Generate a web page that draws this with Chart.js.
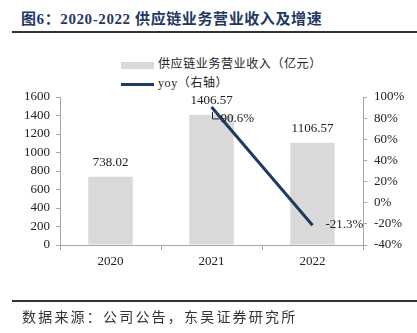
<!DOCTYPE html>
<html>
<head>
<meta charset="utf-8">
<script src="https://cdn.jsdelivr.net/npm/chart.js@4"></script>
<style>
  html, body { margin: 0; padding: 0; background: #fff; }
  #wrap { position: relative; width: 417px; height: 333px; overflow: hidden; font-family: "Liberation Serif", "Noto Sans CJK SC", serif; }
  #title { position: absolute; left: 21px; top: 7px; font-size: 15px; font-weight: bold; color: #1F3864; white-space: nowrap; letter-spacing: 0.6px; }
  #rule1 { position: absolute; left: 12px; right: 0; top: 31px; height: 2px; background: #333; }
  #rule2 { position: absolute; left: 12px; right: 0; top: 300px; height: 2px; background: #333; }
  #source { position: absolute; left: 22px; top: 306px; font-size: 14px; color: #333; white-space: nowrap; letter-spacing: 2.2px; }
  .leg { position: absolute; left: 121px; font-size: 12px; color: #222; white-space: nowrap; letter-spacing: 0.6px; line-height: 14px; }
  .leg i { display: inline-block; width: 33px; vertical-align: middle; margin-right: 4px; }
  #leg1 { top: 57px; }
  #leg1 i { height: 7px; background: #D9D9D9; }
  #leg2 { top: 76px; }
  #leg2 i { height: 3px; background: #1F3864; }
  canvas { position: absolute; left: 0; top: 0; }
</style>
</head>
<body>
<div id="wrap">
  <div id="title">图6：2020-2022 供应链业务营业收入及增速</div>
  <div id="rule1"></div>
  <div class="leg" id="leg1"><i></i>供应链业务营业收入（亿元）</div>
  <div class="leg" id="leg2"><i></i>yoy（右轴）</div>
  <canvas id="c" width="417" height="333"></canvas>
  <div id="rule2"></div>
  <div id="source">数据来源：公司公告，东吴证券研究所</div>
</div>
<script>
// 数据
const years = ["2020", "2021", "2022"];
const revenue = [738.02, 1406.57, 1106.57];
const yoy = [null, 90.6, -21.3];

const serif = "'Liberation Serif', 'Times New Roman', serif";
const axisGrey = "#A6A6A6";

// 数值标签
const labelPlugin = {
  id: "labels",
  afterDatasetsDraw(chart) {
    const ctx = chart.ctx;
    ctx.save();
    ctx.font = "13px " + serif;
    ctx.fillStyle = "#222";
    ctx.textBaseline = "middle";
    chart.getDatasetMeta(0).data.forEach((bar, i) => {
      ctx.textAlign = "center";
      ctx.fillText(revenue[i].toFixed(2), bar.x, bar.y - 14);
    });
    chart.getDatasetMeta(1).data.forEach((pt, i) => {
      if (yoy[i] == null) return;
      ctx.textAlign = "left";
      if (yoy[i] > 0) {
        // 引导线
        ctx.strokeStyle = "#222";
        ctx.lineWidth = 1;
        ctx.beginPath();
        ctx.moveTo(pt.x + 1, pt.y + 5);
        ctx.lineTo(pt.x + 1, pt.y + 12);
        ctx.lineTo(pt.x + 8, pt.y + 12);
        ctx.stroke();
        ctx.fillText(yoy[i].toFixed(1) + "%", pt.x + 9, pt.y + 12);
      } else {
        ctx.fillText(yoy[i].toFixed(1) + "%", pt.x + 13, pt.y - 1);
      }
    });
    ctx.restore();
  }
};

new Chart(document.getElementById("c"), {
  type: "bar",
  data: {
    labels: years,
    datasets: [
      {
        type: "bar",
        data: revenue,
        backgroundColor: "#D9D9D9",
        barPercentage: 0.88,
        categoryPercentage: 0.5,
        yAxisID: "y",
        order: 2
      },
      {
        type: "line",
        data: yoy,
        borderColor: "#1F3864",
        borderWidth: 3,
        pointRadius: 0,
        fill: false,
        yAxisID: "y1",
        order: 1
      }
    ]
  },
  options: {
    responsive: false,
    animation: false,
    layout: { padding: { top: 97, left: 0, right: 0, bottom: 0 } },
    plugins: { legend: { display: false }, tooltip: { enabled: false } },
    scales: {
      x: {
        grid: { drawOnChartArea: false, color: axisGrey, tickLength: 5, offset: true },
        border: { color: axisGrey },
        ticks: { font: { family: serif, size: 13 }, color: "#222", padding: 4 },
        afterFit(s) { s.height = 88; }
      },
      y: {
        position: "left",
        min: 0, max: 1600,
        ticks: { stepSize: 200, autoSkip: false, font: { family: serif, size: 13 }, color: "#222", padding: 6,
                 callback: v => String(v) },
        grid: { drawOnChartArea: false, color: axisGrey, tickLength: 4 },
        border: { color: axisGrey },
        afterFit(s) { s.width = 60; }
      },
      y1: {
        position: "right",
        min: -40, max: 100,
        ticks: { stepSize: 20, autoSkip: false, font: { family: serif, size: 13 }, color: "#222", padding: 7,
                 callback: v => v + "%" },
        grid: { drawOnChartArea: false, color: axisGrey, tickLength: 4 },
        border: { color: axisGrey },
        afterFit(s) { s.width = 54; }
      }
    }
  },
  plugins: [labelPlugin]
});
</script>
</body>
</html>
